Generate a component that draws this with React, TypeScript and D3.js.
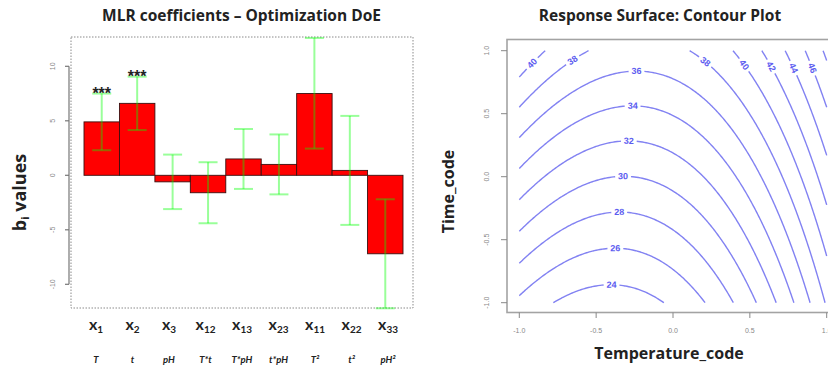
import React from "react";
import * as d3 from "d3";

// ---------------- MLR coefficients (left panel) ----------------
const termSubscripts = ["1", "2", "3", "12", "13", "23", "11", "22", "33"];
const termFactors = ["T", "t", "pH", "T*t", "T*pH", "t*pH", "T²", "t²", "pH²"];
const coefficients = [4.9, 6.6, -0.6, -1.6, 1.5, 1.0, 7.5, 0.45, -7.2];
const ciLower = [2.3, 4.15, -3.1, -4.4, -1.25, -1.75, 2.45, -4.55, -12.2];
const ciUpper = [7.5, 9.05, 1.9, 1.2, 4.25, 3.75, 12.6, 5.45, -2.2];
const significance = ["***", "***", "", "", "", "", "", "", ""];
const coefTicks = [-10, -5, 0, 5, 10];

// ---------------- Response surface model (right panel) ----------------
// coded model: z = b0 + bT*T + bt*t + bTT*T^2 + btt*t^2 + bTt*T*t
const rsmTerms = ["b0", "T", "t", "T^2", "t^2", "T*t"];
const rsmCoefficients = [30.75, 4.83, 6.6, 7.55, 0.2, -1.5];
const contourLevels = [24, 26, 28, 30, 32, 34, 36, 38, 40, 42, 44, 46, 48];
const codedTicks = [-1, -0.5, 0, 0.5, 1];
const codedTickLabels = ["-1.0", "-0.5", "0.0", "0.5", "1.0"];

// ---------------- scales / layout ----------------
const W = 828;
const yCoef = d3.scaleLinear().domain([-10, 10]).range([284.3, 66.3]);
const xBar = d3.scaleBand().domain(termSubscripts).range([84, 403]).padding(0);
const xLab = d3.scalePoint().domain(termSubscripts).range([96, 388]);

const xT = d3.scaleLinear().domain([-1, 1]).range([519.3, 826.7]);
const yT = d3.scaleLinear().domain([-1, 1]).range([302.7, 50.7]);

const CONTOUR_COLOR = "#8282f2";
const LABEL_COLOR = "#5c5cf0";

function rsm(x: number, y: number) {
  const [b0, b1, b2, b11, b22, b12] = rsmCoefficients;
  return b0 + b1 * x + b2 * y + b11 * x * x + b22 * y * y + b12 * x * y;
}

type Pt = [number, number];

function ringToPieces(ring: Pt[], n: number, m: number): Pt[][] {
  const isB = (p: Pt) => p[0] <= 0 || p[0] >= n || p[1] <= 0 || p[1] >= m;
  const pts = ring.slice(0, -1);
  const k = pts.length;
  const start = pts.findIndex(isB);
  if (start < 0) return [pts.concat([pts[0]])];
  const pieces: Pt[][] = [];
  let cur: Pt[] = [];
  for (let t = 1; t <= k; t++) {
    const p = pts[(start + t) % k];
    if (isB(p)) {
      if (cur.length > 1) pieces.push(cur);
      cur = [];
    } else cur.push(p);
  }
  if (cur.length > 1) pieces.push(cur);
  return pieces;
}

function buildContours() {
  const n = 161, m = 161;
  const vals: number[] = new Array(n * m);
  for (let j = 0; j < m; j++) {
    const y = -1 + (2 * j) / (m - 1);
    for (let i = 0; i < n; i++) {
      const x = -1 + (2 * i) / (n - 1);
      vals[j * n + i] = rsm(x, y);
    }
  }
  const polys = d3.contours().size([n, m]).thresholds(contourLevels)(vals);
  const out: { level: number; pts: Pt[] }[] = [];
  polys.forEach((mp) => {
    mp.coordinates.forEach((poly) =>
      poly.forEach((ring) => {
        for (const piece of ringToPieces(ring as Pt[], n, m)) {
          const pts = piece.map(
            ([a, b]) =>
              [xT(-1 + ((a - 0.5) * 2) / (n - 1)), yT(-1 + ((b - 0.5) * 2) / (m - 1))] as Pt
          );
          out.push({ level: mp.value, pts });
        }
      })
    );
  });
  return out.map((c) => layoutLabel(c.pts, String(c.level)));
}

function layoutLabel(pts: Pt[], text: string) {
  const cum = [0];
  for (let i = 1; i < pts.length; i++) {
    cum.push(cum[i - 1] + Math.hypot(pts[i][0] - pts[i - 1][0], pts[i][1] - pts[i - 1][1]));
  }
  const L = cum[cum.length - 1];
  const pointAt = (s: number): Pt => {
    s = Math.max(0, Math.min(L, s));
    let i = d3.bisectLeft(cum, s);
    if (i <= 0) return pts[0];
    if (i >= pts.length) return pts[pts.length - 1];
    const t = (s - cum[i - 1]) / (cum[i] - cum[i - 1] || 1);
    return [pts[i - 1][0] + t * (pts[i][0] - pts[i - 1][0]), pts[i - 1][1] + t * (pts[i][1] - pts[i - 1][1])];
  };
  const half = text.length * 2.7 + 2.5;
  const margin = Math.min(L / 2, 18);
  let bestS = L / 2;
  let bestScore = Infinity;
  for (let i = 0; i < pts.length; i++) {
    const s = cum[i];
    if (s < margin || s > L - margin) continue;
    const a = pointAt(s - 6), b = pointAt(s + 6);
    const ang = Math.abs(Math.atan2(b[1] - a[1], b[0] - a[0]));
    const score = Math.min(ang, Math.PI - ang);
    if (score < bestScore - 1e-4) {
      bestScore = score;
      bestS = s;
    }
  }
  const c = pointAt(bestS);
  const visible = c[0] + half + 2 < W;
  if (!visible) return { text, segments: [pts], cx: c[0], cy: c[1], angle: 0, visible };
  const a = pointAt(bestS - 5), b = pointAt(bestS + 5);
  let angle = (Math.atan2(b[1] - a[1], b[0] - a[0]) * 180) / Math.PI;
  if (angle > 90) angle -= 180;
  if (angle < -90) angle += 180;
  const before: Pt[] = [];
  const after: Pt[] = [];
  for (let i = 0; i < pts.length; i++) {
    if (cum[i] < bestS - half) before.push(pts[i]);
    else if (cum[i] > bestS + half) after.push(pts[i]);
  }
  if (before.length) before.push(pointAt(bestS - half));
  if (after.length) after.unshift(pointAt(bestS + half));
  return { text, segments: [before, after].filter((s) => s.length > 1), cx: c[0], cy: c[1], angle, visible };
}

const line = d3.line<Pt>().x((d) => d[0]).y((d) => d[1]);

export default function App() {
  const contours = React.useMemo(buildContours, []);
  const titleFont = "'Open Sans', Lato, sans-serif";
  const labFont = "Lato, 'Open Sans', sans-serif";
  const tickFont = "'Liberation Sans', Arial, sans-serif";
  return (
    <div style={{ position: "absolute", left: 0, top: 0 }}>
      <svg width={828} height={366} style={{ display: "block", background: "#fff" }}>
        {/* ================= LEFT PANEL ================= */}
        <text x={241.5} y={21} textAnchor="middle" fontFamily={titleFont} fontWeight="bold" fontSize={15.5} fill="#222">
          MLR coefficients – Optimization DoE
        </text>
        <rect x={71} y={37} width={342} height={271} fill="none" stroke="#8a8a8a" strokeWidth={1} strokeDasharray="1.5 1.5" />
        {/* y axis */}
        <line x1={69} x2={69} y1={yCoef(-10)} y2={yCoef(10)} stroke="#777" strokeWidth={1.2} />
        {coefTicks.map((t) => (
          <g key={t}>
            <line x1={65} x2={69} y1={yCoef(t)} y2={yCoef(t)} stroke="#777" strokeWidth={1.2} />
            <text transform={`translate(54.5,${yCoef(t)}) rotate(-90)`} textAnchor="middle" fontFamily={tickFont} fontSize={7} fill="#888">
              {t}
            </text>
          </g>
        ))}
        <text transform="translate(26,192.5) rotate(-90)" textAnchor="middle" fontFamily={titleFont} fontWeight="bold" fontSize={18} fill="#222">
          b<tspan fontSize={11} dy={3}>i</tspan>
          <tspan dy={-3}> values</tspan>
        </text>
        {/* bars */}
        {termSubscripts.map((k, i) => {
          const v = coefficients[i];
          const x = xBar(k)!;
          return (
            <rect key={k} x={x} width={xBar.bandwidth()} y={Math.min(yCoef(v), yCoef(0))} height={Math.abs(yCoef(v) - yCoef(0))} fill="#ff0000" stroke="#3a1010" strokeWidth={0.9} />
          );
        })}
        {/* error bars */}
        {termSubscripts.map((k, i) => {
          const cx = xBar(k)! + xBar.bandwidth() / 2;
          const y0 = yCoef(ciLower[i]), y1 = yCoef(ciUpper[i]);
          const c = "rgba(0,255,0,0.4)";
          return (
            <g key={k} stroke={c} strokeWidth={2}>
              <line x1={cx} x2={cx} y1={y0} y2={y1} />
              <line x1={cx - 9.5} x2={cx + 9.5} y1={y0} y2={y0} />
              <line x1={cx - 9.5} x2={cx + 9.5} y1={y1} y2={y1} />
            </g>
          );
        })}
        {termSubscripts.map((k, i) =>
          significance[i] ? (
            <text key={k} x={xBar(k)! + xBar.bandwidth() / 2} y={yCoef(ciUpper[i]) + 5} textAnchor="middle" fontFamily={tickFont} fontWeight="bold" fontSize={16} fill="#222">
              {significance[i]}
            </text>
          ) : null
        )}
        {/* term labels */}
        {termSubscripts.map((k, i) => (
          <g key={k}>
            <text x={xLab(k)!} y={330} textAnchor="middle" fontFamily={labFont} fontWeight="bold" fontSize={16} fill="#222">
              x<tspan fontSize={10} dy={3}>{k}</tspan>
            </text>
            <text x={xLab(k)!} y={362.5} textAnchor="middle" fontFamily={labFont} fontWeight="bold" fontStyle="italic" fontSize={9.5} fill="#222">
              {termFactors[i]}
            </text>
          </g>
        ))}

        {/* ================= RIGHT PANEL ================= */}
        <text x={660} y={21} textAnchor="middle" fontFamily={titleFont} fontWeight="bold" fontSize={15.5} fill="#222">
          Response Surface: Contour Plot
        </text>
        <rect x={507} y={39.5} width={400} height={273} fill="none" stroke="#a3a3a3" strokeWidth={1.6} />
        {codedTicks.map((t, i) => (
          <g key={"y" + t}>
            <line x1={501} x2={507} y1={yT(t)} y2={yT(t)} stroke="#888" strokeWidth={1} />
            <text transform={`translate(488.5,${yT(t)}) rotate(-90)`} textAnchor="middle" fontFamily={tickFont} fontSize={7} fill="#888">
              {codedTickLabels[i]}
            </text>
          </g>
        ))}
        {codedTicks.map((t, i) => (
          <g key={"x" + t}>
            <line x1={xT(t)} x2={xT(t)} y1={312.5} y2={318} stroke="#888" strokeWidth={1} />
            <text x={xT(t)} y={332.5} textAnchor="middle" fontFamily={tickFont} fontSize={7} fill="#888">
              {codedTickLabels[i]}
            </text>
          </g>
        ))}
        <text x={669} y={358.5} textAnchor="middle" fontFamily={titleFont} fontWeight="bold" fontSize={16} fill="#222">
          Temperature_code
        </text>
        <text transform="translate(454,191.5) rotate(-90)" textAnchor="middle" fontFamily={titleFont} fontWeight="bold" fontSize={16} fill="#222">
          Time_code
        </text>
        {/* contours */}
        <g fill="none" stroke={CONTOUR_COLOR} strokeWidth={1.4}>
          {contours.map((c, i) => c.segments.map((s, j) => <path key={i + "-" + j} d={line(s) || ""} />))}
        </g>
        {contours.map((c, i) =>
          c.visible ? (
            <text key={"l" + i} transform={`translate(${c.cx},${c.cy}) rotate(${c.angle})`} textAnchor="middle" dominantBaseline="central" fontFamily={tickFont} fontWeight="bold" fontSize={9} fill={LABEL_COLOR}>
              {c.text}
            </text>
          ) : null
        )}
      </svg>
    </div>
  );
}
